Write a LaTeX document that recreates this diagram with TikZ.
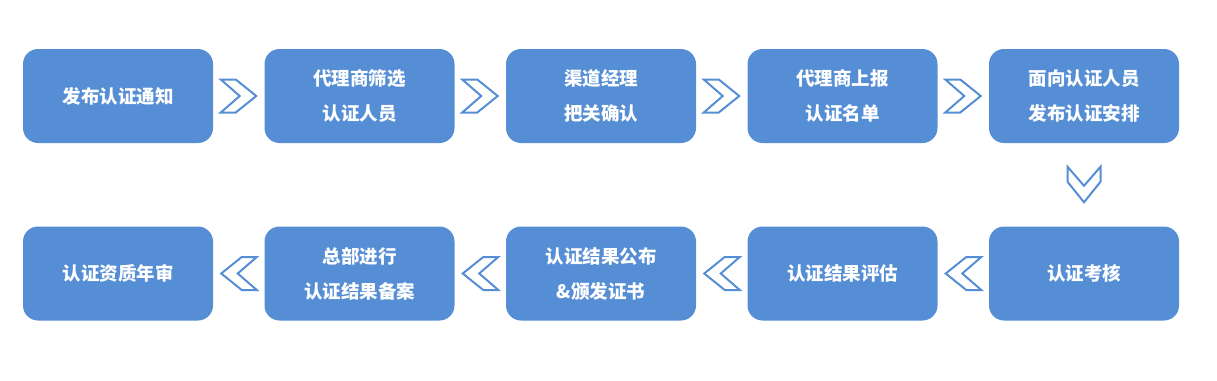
\documentclass[tikz,border=0pt]{standalone}
\usepackage{fontspec}
\newfontfamily\cjk{Noto Sans CJK SC}
\usetikzlibrary{calc}
\definecolor{boxblue}{RGB}{85,142,213}
\tikzset{
  stepbox/.style={rectangle, rounded corners=15pt, fill=boxblue, text=white,
                  minimum width=190pt, minimum height=94pt, inner sep=0pt,
                  align=center, font=\cjk\bfseries\fontsize{18.5}{35}\selectfont},
  chev/.pic={\draw[boxblue, line width=2pt, line join=miter]
               (-18,-16.5) -- (-3,-16.5) -- (17.5,0) -- (-3,16.5) -- (-18,16.5) -- (1,0) -- cycle;},
}

\begin{document}
\begin{tikzpicture}[x=1pt, y=-1pt]
  \useasboundingbox (0,0) rectangle (1217,380);
  \node[stepbox] (a1) at (118,96) {发布认证通知};
  \node[stepbox] (a2) at (359.5,96) {代理商筛选\\认证人员};
  \node[stepbox] (a3) at (601,96) {渠道经理\\把关确认};
  \node[stepbox] (a4) at (842.5,96) {代理商上报\\认证名单};
  \node[stepbox] (a5) at (1084,96) {面向认证人员\\发布认证安排};
  \node[stepbox] (b5) at (1084,273.5) {认证考核};
  \node[stepbox] (b4) at (842.5,273.5) {认证结果评估};
  \node[stepbox] (b3) at (601,273.5) {认证结果公布\\\&颁发证书};
  \node[stepbox] (b2) at (359.5,273.5) {总部进行\\认证结果备案};
  \node[stepbox] (b1) at (118,273.5) {认证资质年审};
  \pic at ($(a1.east)!0.5!(a2.west)$) {chev};
  \pic at ($(a2.east)!0.5!(a3.west)$) {chev};
  \pic at ($(a3.east)!0.5!(a4.west)$) {chev};
  \pic at ($(a4.east)!0.5!(a5.west)$) {chev};
  \pic[rotate=-90] at ($(a5.south)!0.5!(b5.north)$) {chev};
  \pic[rotate=180] at ($(b4.east)!0.5!(b5.west)$) {chev};
  \pic[rotate=180] at ($(b3.east)!0.5!(b4.west)$) {chev};
  \pic[rotate=180] at ($(b2.east)!0.5!(b3.west)$) {chev};
  \pic[rotate=180] at ($(b1.east)!0.5!(b2.west)$) {chev};
\end{tikzpicture}
\end{document}
